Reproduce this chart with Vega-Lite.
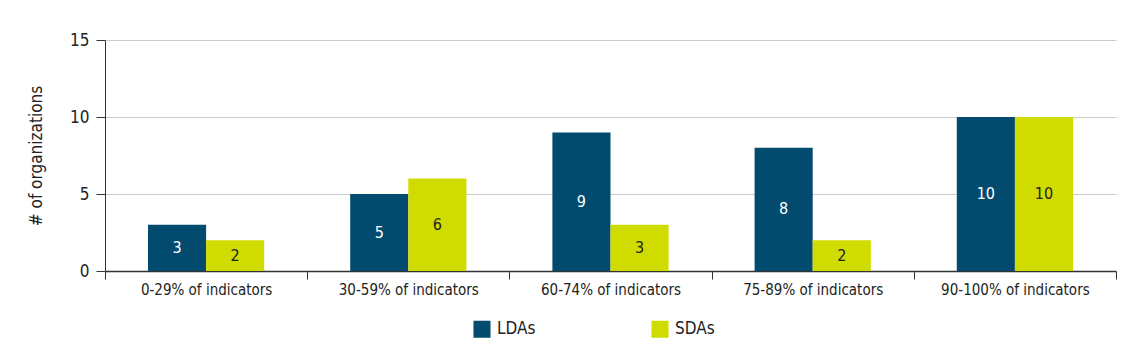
{
  "$schema": "https://vega.github.io/schema/vega-lite/v6.json",
  "width": 1011,
  "height": 231,
  "autosize": "none",
  "padding": {"left": 105, "top": 40, "right": 20, "bottom": 88},
  "config": {
    "font": "Liberation Sans Narrow, DejaVu Sans Condensed, sans-serif",
    "view": {"stroke": null},
    "axis": {"labelFont": "Liberation Sans Narrow, DejaVu Sans Condensed, sans-serif", "titleFont": "Liberation Sans Narrow, DejaVu Sans Condensed, sans-serif"},
    "legend": {"labelFont": "Liberation Sans Narrow, DejaVu Sans Condensed, sans-serif"}
  },
  "data": {
    "values": [
      {"cat": "0-29% of indicators", "group": "LDAs", "value": 3},
      {"cat": "0-29% of indicators", "group": "SDAs", "value": 2},
      {"cat": "30-59% of indicators", "group": "LDAs", "value": 5},
      {"cat": "30-59% of indicators", "group": "SDAs", "value": 6},
      {"cat": "60-74% of indicators", "group": "LDAs", "value": 9},
      {"cat": "60-74% of indicators", "group": "SDAs", "value": 3},
      {"cat": "75-89% of indicators", "group": "LDAs", "value": 8},
      {"cat": "75-89% of indicators", "group": "SDAs", "value": 2},
      {"cat": "90-100% of indicators", "group": "LDAs", "value": 10},
      {"cat": "90-100% of indicators", "group": "SDAs", "value": 10}
    ]
  },
  "encoding": {
    "x": {
      "field": "cat", "type": "nominal", "sort": null,
      "scale": {"paddingInner": 0, "paddingOuter": 0},
      "axis": {
        "title": null, "labelAngle": 0, "labelFontSize": 15, "labelColor": "#222",
        "tickBand": "extent", "tickSize": 8, "tickColor": "#333", "domainColor": "#333", "domainWidth": 1.5,
        "labelPadding": 3, "grid": false
      }
    },
    "xOffset": {"field": "group", "type": "nominal", "scale": {"paddingInner": 0, "paddingOuter": 0.74}}
  },
  "layer": [
    {
      "mark": {"type": "bar"},
      "encoding": {
        "y": {
          "field": "value", "type": "quantitative",
          "scale": {"domain": [0, 15], "nice": false},
          "axis": {
            "title": "# of organizations", "titleFontSize": 17, "titleFontWeight": "normal", "titleColor": "#222", "titlePadding": 24,
            "values": [0, 5, 10, 15], "labelFontSize": 17, "labelColor": "#222",
            "tickSize": 9, "tickColor": "#333", "domainColor": "#333", "gridColor": "#cccccc", "labelPadding": 7
          }
        },
        "color": {
          "field": "group", "type": "nominal",
          "scale": {"domain": ["LDAs", "SDAs"], "range": ["#024b6e", "#d0dc00"]},
          "legend": {
            "title": null, "orient": "none", "legendX": 368, "legendY": 280, "direction": "horizontal",
            "symbolType": "square", "symbolSize": 290, "symbolStrokeWidth": 0,
            "labelFontSize": 17, "labelColor": "#222", "columnPadding": 115, "labelLimit": 200,
            "labelOffset": 6
          }
        }
      }
    },
    {
      "mark": {"type": "text", "fontSize": 16, "baseline": "middle"},
      "encoding": {
        "y": {"field": "value", "type": "quantitative", "scale": {"domain": [0, 30], "nice": false}, "axis": null},
        "text": {"field": "value", "type": "quantitative"},
        "color": {
          "field": "group", "type": "nominal",
          "scale": {"domain": ["LDAs", "SDAs"], "range": ["#ffffff", "#222222"]},
          "legend": null
        }
      }
    }
  ],
  "resolve": {"scale": {"color": "independent", "y": "independent"}}
}
